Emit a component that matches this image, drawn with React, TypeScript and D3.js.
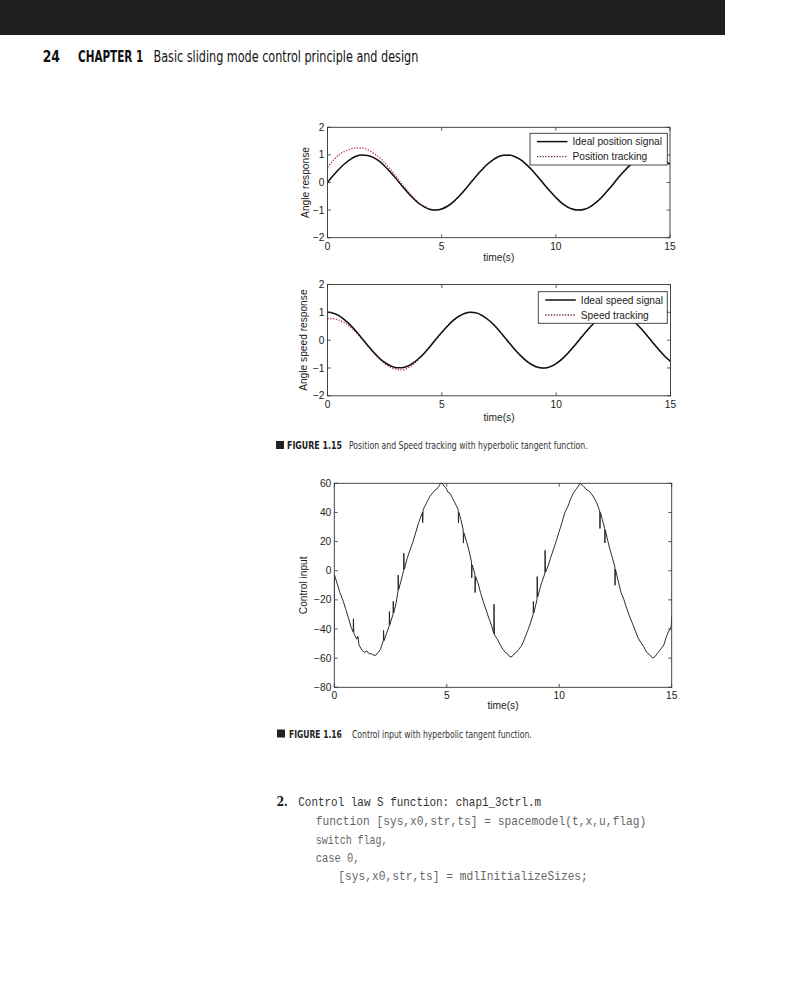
import React, { useLayoutEffect, useRef, useState } from 'react';
import * as d3 from 'd3';

// ---------- data ----------
const timeGrid = [
  0, 0.25, 0.5, 0.75, 1, 1.25, 1.5, 1.75, 2, 2.25, 2.5, 2.75, 3, 3.25, 3.5, 3.75,
  4, 4.25, 4.5, 4.75, 5, 5.25, 5.5, 5.75, 6, 6.25, 6.5, 6.75, 7, 7.25, 7.5, 7.75,
  8, 8.25, 8.5, 8.75, 9, 9.25, 9.5, 9.75, 10, 10.25, 10.5, 10.75, 11, 11.25, 11.5, 11.75,
  12, 12.25, 12.5, 12.75, 13, 13.25, 13.5, 13.75, 14, 14.25, 14.5, 14.75, 15,
];

const idealPosition = [
  0, 0.25, 0.48, 0.68, 0.84, 0.95, 1.0, 0.98, 0.91, 0.78, 0.6, 0.38, 0.14, -0.11, -0.35, -0.57,
  -0.76, -0.89, -0.98, -1.0, -0.96, -0.86, -0.71, -0.51, -0.28, -0.03, 0.22, 0.45, 0.66, 0.82, 0.94, 0.99,
  0.99, 0.92, 0.8, 0.62, 0.41, 0.17, -0.08, -0.32, -0.54, -0.74, -0.88, -0.97, -1.0, -0.97, -0.88, -0.73,
  -0.54, -0.31, -0.07, 0.19, 0.42, 0.63, 0.8, 0.92, 0.99, 0.99, 0.93, 0.82, 0.65,
];

const trackedPosition = [
  0.55, 0.8, 1.0, 1.13, 1.21, 1.25, 1.25, 1.19, 1.07, 0.92, 0.72, 0.48, 0.22, -0.05, -0.3, -0.53,
  -0.73, -0.87, -0.97, -1.0, -0.96, -0.86, -0.71, -0.51, -0.28, -0.03, 0.22, 0.45, 0.66, 0.82, 0.94, 0.99,
  0.99, 0.92, 0.8, 0.62, 0.41, 0.17, -0.08, -0.32, -0.54, -0.74, -0.88, -0.97, -1.0, -0.97, -0.88, -0.73,
  -0.54, -0.31, -0.07, 0.19, 0.42, 0.63, 0.8, 0.92, 0.99, 0.99, 0.93, 0.82, 0.65,
];

const idealSpeed = [
  1.0, 0.97, 0.88, 0.73, 0.54, 0.32, 0.07, -0.18, -0.42, -0.63, -0.8, -0.92, -0.99, -0.99, -0.94, -0.82,
  -0.65, -0.45, -0.21, 0.04, 0.28, 0.51, 0.71, 0.86, 0.96, 1.0, 0.98, 0.89, 0.75, 0.57, 0.35, 0.1,
  -0.15, -0.39, -0.6, -0.78, -0.91, -0.98, -1.0, -0.95, -0.84, -0.68, -0.48, -0.25, 0.0, 0.25, 0.48, 0.69,
  0.84, 0.95, 1.0, 0.98, 0.91, 0.78, 0.6, 0.38, 0.14, -0.11, -0.35, -0.58, -0.76,
];

const trackedSpeed = [
  0.78, 0.77, 0.72, 0.62, 0.47, 0.28, 0.05, -0.19, -0.44, -0.66, -0.84, -0.97, -1.05, -1.07, -1.01, -0.87,
  -0.68, -0.46, -0.22, 0.03, 0.28, 0.51, 0.71, 0.86, 0.96, 1.0, 0.98, 0.89, 0.75, 0.57, 0.35, 0.1,
  -0.15, -0.39, -0.6, -0.78, -0.91, -0.99, -1.01, -0.96, -0.84, -0.68, -0.48, -0.25, 0.0, 0.25, 0.48, 0.69,
  0.84, 0.95, 1.0, 0.98, 0.91, 0.78, 0.6, 0.38, 0.14, -0.11, -0.35, -0.58, -0.76,
];

const controlTime = [
  0, 0.01, 0.25, 0.4, 0.5, 0.62, 0.75, 0.84, 0.85, 0.87, 1.0, 1.05, 1.1, 1.25, 1.35, 1.45,
  1.55, 1.65, 1.75, 1.85, 1.95, 2.05, 2.18, 2.19, 2.21, 2.3, 2.44, 2.45, 2.47, 2.61, 2.62, 2.64,
  2.75, 2.83, 2.84, 2.86, 3.0, 3.08, 3.09, 3.11, 3.25, 3.5, 3.75, 3.92, 3.93, 3.95, 4.05, 4.15,
  4.25, 4.35, 4.45, 4.55, 4.65, 4.72, 4.8, 4.88, 4.96, 5.05, 5.15, 5.25, 5.35, 5.51, 5.52, 5.54,
  5.63, 5.73, 5.74, 5.76, 5.88, 6.0, 6.1, 6.11, 6.13, 6.25, 6.26, 6.28, 6.4, 6.5, 6.62, 6.75,
  6.88, 7.0, 7.09, 7.1, 7.12, 7.25, 7.38, 7.5, 7.6, 7.7, 7.8, 7.9, 8.0, 8.1, 8.2, 8.3,
  8.4, 8.5, 8.6, 8.72, 8.84, 8.85, 8.87, 9.01, 9.02, 9.04, 9.2, 9.36, 9.37, 9.39, 9.5, 9.62,
  9.75, 9.88, 10.0, 10.12, 10.25, 10.38, 10.5, 10.62, 10.75, 10.85, 10.92, 11.0, 11.08, 11.18, 11.3, 11.42,
  11.55, 11.68, 11.8, 11.81, 11.83, 11.92, 12.02, 12.03, 12.05, 12.15, 12.25, 12.36, 12.47, 12.48, 12.5, 12.62,
  12.75, 12.88, 13.0, 13.12, 13.25, 13.38, 13.5, 13.62, 13.75, 13.85, 13.95, 14.05, 14.15, 14.25, 14.35, 14.45,
  14.55, 14.65, 14.75, 14.85, 14.93, 14.98, 15.0,
];

const controlValue = [
  -48, -3, -15, -21, -26, -32, -39, -42, -33, -43, -47, -45, -51, -55, -56, -55,
  -57, -57, -58, -58, -56, -54, -48, -41, -48, -44, -38, -28, -37, -30, -21, -29,
  -22, -14, -3, -13, -5, 0, 12, 1, 9, 20, 33, 40, 33, 42, 45, 48,
  51, 53, 55, 56, 58, 60, 60, 58, 57, 54, 53, 50, 47, 42, 33, 40,
  35, 28, 19, 26, 20, 13, 6, -5, 4, -2, -15, -4, -9, -15, -21, -27,
  -33, -38, -43, -23, -44, -47, -51, -54, -56, -57, -59, -59, -57, -56, -54, -52,
  -49, -45, -41, -36, -30, -21, -29, -20, -4, -18, -9, -2, 14, -1, 3, 9,
  15, 21, 27, 33, 40, 44, 49, 53, 56, 58, 60, 59, 58, 56, 55, 53,
  50, 46, 41, 29, 40, 35, 29, 19, 28, 21, 15, 9, 3, -10, 1, -7,
  -15, -20, -26, -31, -36, -41, -46, -49, -52, -55, -57, -58, -60, -59, -57, -55,
  -53, -51, -46, -42, -40, -38, -31,
];

const timeTicks = [0, 5, 10, 15];
const angleTicks = [2, 1, 0, -1, -2];
const controlTicks = [60, 40, 20, 0, -20, -40, -60, -80];

const codeLines = [
  'function [sys,x0,str,ts] = spacemodel(t,x,u,flag)',
  'switch flag,',
  'case 0,',
  '[sys,x0,str,ts] = mdlInitializeSizes;',
];

// ---------- helpers ----------
const AX_FONT = "'Liberation Sans', Arial, Helvetica, sans-serif";
const BOOK_FONT = "'Liberation Sans Narrow', 'Arial Narrow', 'DejaVu Sans Condensed', 'Open Sans', sans-serif";
const MONO_FONT = "'Liberation Mono', 'DejaVu Sans Mono', monospace";
const fmt = (v: number) => (v < 0 ? '\u2212' + Math.abs(v) : String(v));

// text squeezed horizontally to a given width (like the book's condensed faces)
function FitText(props: { x: number; y: number; width: number; children: string; [k: string]: any }) {
  const { x, y, width, children, ...rest } = props;
  const ref = useRef<SVGTextElement>(null);
  const [s, setS] = useState(1);
  useLayoutEffect(() => {
    if (ref.current) {
      const w = ref.current.getComputedTextLength();
      if (w > 0) setS(width / w);
    }
  }, [width, children]);
  return (
    <text ref={ref} transform={`translate(${x},${y}) scale(${s},1)`} {...rest}>{children}</text>
  );
}

type Series = { xs: number[]; ys: number[]; stroke: string; width: number; dash?: string; curve?: any };

function Plot(props: {
  left: number; right: number; top: number; bottom: number;
  yDomain: [number, number]; yTicks: number[]; yLabel: string; yLabelX: number;
  xLabelBase: number; series: Series[];
  legend?: { x: number; y: number; w: number; h: number; items: { label: string; stroke: string; dash?: string; width: number }[] };
  id: string;
}) {
  const { left, right, top, bottom } = props;
  const x = d3.scaleLinear().domain([0, 15]).range([left, right]);
  const y = d3.scaleLinear().domain(props.yDomain).range([bottom, top]);
  const tl = 3.5;
  return (
    <g>
      <defs>
        <clipPath id={props.id}>
          <rect x={left} y={top - 1} width={right - left} height={bottom - top + 2} />
        </clipPath>
      </defs>
      <rect x={left} y={top} width={right - left} height={bottom - top} fill="#fff" />
      <g clipPath={`url(#${props.id})`}>
        {props.series.map((s, i) => {
          const pts = s.xs.map((t, k) => [t, s.ys[k]] as [number, number]);
          const line = d3.line<[number, number]>().x((d) => x(d[0])).y((d) => y(d[1])).curve(s.curve || d3.curveLinear);
          return (
            <path key={i} d={line(pts) || ''} fill="none" stroke={s.stroke} strokeWidth={s.width}
              strokeDasharray={s.dash} strokeLinejoin="miter" strokeMiterlimit={2} />
          );
        })}
      </g>
      {timeTicks.map((t) => (
        <g key={'xt' + t}>
          <line x1={x(t)} x2={x(t)} y1={bottom} y2={bottom - tl} stroke="#333" strokeWidth={0.8} />
          <line x1={x(t)} x2={x(t)} y1={top} y2={top + tl} stroke="#333" strokeWidth={0.8} />
          <text x={x(t)} y={bottom + 12} textAnchor="middle" fontFamily={AX_FONT} fontSize={10.2} fill="#222">{fmt(t)}</text>
        </g>
      ))}
      {props.yTicks.map((v) => (
        <g key={'yt' + v}>
          <line x1={left} x2={left + tl} y1={y(v)} y2={y(v)} stroke="#333" strokeWidth={0.8} />
          <line x1={right} x2={right - tl} y1={y(v)} y2={y(v)} stroke="#333" strokeWidth={0.8} />
          <text x={left - 3} y={y(v)} dy="0.35em" textAnchor="end" fontFamily={AX_FONT} fontSize={10.2} fill="#222">{fmt(v)}</text>
        </g>
      ))}
      <rect x={left} y={top} width={right - left} height={bottom - top} fill="none" stroke="#333" strokeWidth={0.9} />
      <text x={(left + right) / 2} y={props.xLabelBase} textAnchor="middle" fontFamily={AX_FONT} fontSize={10.2} fill="#222">time(s)</text>
      <text transform={`translate(${props.yLabelX},${(top + bottom) / 2}) rotate(-90)`} dy="0.35em" textAnchor="middle"
        fontFamily={AX_FONT} fontSize={10.2} fill="#222">{props.yLabel}</text>
      {props.legend && (
        <g>
          <rect x={props.legend.x} y={props.legend.y} width={props.legend.w} height={props.legend.h} fill="#fff" stroke="#333" strokeWidth={0.9} />
          {props.legend.items.map((it, i) => {
            const ry = props.legend!.y + 8.3 + i * 15;
            return (
              <g key={i}>
                <line x1={props.legend!.x + 7} x2={props.legend!.x + 37.5} y1={ry} y2={ry} stroke={it.stroke} strokeWidth={it.width} strokeDasharray={it.dash} />
                <text x={props.legend!.x + 42.5} y={ry} dy="0.35em" fontFamily={AX_FONT} fontSize={10.2} fill="#222">{it.label}</text>
              </g>
            );
          })}
        </g>
      )}
    </g>
  );
}

export default function App() {
  const trackColor = '#c23a5e';
  const trackDash = '1.3 1.5';
  return (
    <svg width={800} height={987} viewBox="0 0 800 987" style={{ position: 'absolute', left: 0, top: 0, background: '#fff' }}>
      <rect x={0} y={0} width={800} height={987} fill="#fff" />
      {/* page header */}
      <rect x={0} y={0} width={725} height={35} fill="#1e1e1e" />
      <FitText x={42.7} y={62} width={17.3} fontFamily={BOOK_FONT} fontWeight="bold" fontSize={16.5} fill="#111">24</FitText>
      <FitText x={78} y={62} width={65.3} fontFamily={BOOK_FONT} fontWeight="bold" fontSize={16.5} fill="#111">CHAPTER 1</FitText>
      <FitText x={153.5} y={62} width={265} fontFamily={BOOK_FONT} fontSize={16.5} fill="#111">Basic sliding mode control principle and design</FitText>

      {/* Figure 1.15 top: position */}
      <Plot id="clipA" left={327.5} right={670} top={127.3} bottom={237.7} yDomain={[-2, 2]} yTicks={angleTicks}
        yLabel="Angle response" yLabelX={305} xLabelBase={260.5}
        series={[
          { xs: timeGrid, ys: trackedPosition, stroke: trackColor, width: 1.4, dash: trackDash, curve: d3.curveMonotoneX },
          { xs: timeGrid, ys: idealPosition, stroke: '#111', width: 1.5, curve: d3.curveMonotoneX },
        ]}
        legend={{ x: 530, y: 133.3, w: 137.3, h: 31.7, items: [
          { label: 'Ideal position signal', stroke: '#111', width: 1.5 },
          { label: 'Position tracking', stroke: '#6a2a45', width: 1.3, dash: trackDash },
        ] }}
      />
      {/* Figure 1.15 bottom: speed */}
      <Plot id="clipB" left={327.5} right={670.5} top={284.5} bottom={395.8} yDomain={[-2, 2]} yTicks={angleTicks}
        yLabel="Angle speed response" yLabelX={303.5} xLabelBase={421}
        series={[
          { xs: timeGrid, ys: trackedSpeed, stroke: trackColor, width: 1.4, dash: trackDash, curve: d3.curveMonotoneX },
          { xs: timeGrid, ys: idealSpeed, stroke: '#111', width: 1.5, curve: d3.curveMonotoneX },
        ]}
        legend={{ x: 538.3, y: 291.7, w: 129, h: 31.6, items: [
          { label: 'Ideal speed signal', stroke: '#111', width: 1.5 },
          { label: 'Speed tracking', stroke: '#6a2a45', width: 1.3, dash: trackDash },
        ] }}
      />
      {/* caption 1.15 */}
      <rect x={276} y={441} width={8} height={8} fill="#222" />
      <FitText x={287} y={449} width={55} fontFamily={BOOK_FONT} fontWeight="bold" fontSize={11} fill="#222">FIGURE 1.15</FitText>
      <FitText x={349} y={449} width={239} fontFamily={BOOK_FONT} fontSize={11} fill="#333">Position and Speed tracking with hyperbolic tangent function.</FitText>

      {/* Figure 1.16 control input */}
      <Plot id="clipC" left={334.3} right={671.7} top={483.3} bottom={687.3} yDomain={[-80, 60]} yTicks={controlTicks}
        yLabel="Control input" yLabelX={303} xLabelBase={709}
        series={[{ xs: controlTime, ys: controlValue, stroke: '#222', width: 0.95 }]}
      />
      {/* caption 1.16 */}
      <rect x={277} y={729.5} width={8} height={8} fill="#222" />
      <FitText x={289} y={737.5} width={53} fontFamily={BOOK_FONT} fontWeight="bold" fontSize={11} fill="#222">FIGURE 1.16</FitText>
      <FitText x={352} y={737.5} width={180} fontFamily={BOOK_FONT} fontSize={11} fill="#333">Control input with hyperbolic tangent function.</FitText>

      {/* code listing */}
      <FitText x={276.7} y={806} width={11} fontFamily="'DejaVu Serif', serif" fontWeight="bold" fontSize={13} fill="#111">2.</FitText>
      <FitText x={298.3} y={806} width={243} fontFamily={MONO_FONT} fontSize={12.5} fill="#333">Control law S function: chap1_3ctrl.m</FitText>
      <FitText x={315.7} y={825} width={331} fontFamily={MONO_FONT} fontSize={12.5} fill="#666">{codeLines[0]}</FitText>
      <FitText x={315.7} y={843.5} width={72} fontFamily={MONO_FONT} fontSize={12.5} fill="#666">{codeLines[1]}</FitText>
      <FitText x={315.7} y={861.7} width={44} fontFamily={MONO_FONT} fontSize={12.5} fill="#666">{codeLines[2]}</FitText>
      <FitText x={338.3} y={880} width={250} fontFamily={MONO_FONT} fontSize={12.5} fill="#666">{codeLines[3]}</FitText>
    </svg>
  );
}
